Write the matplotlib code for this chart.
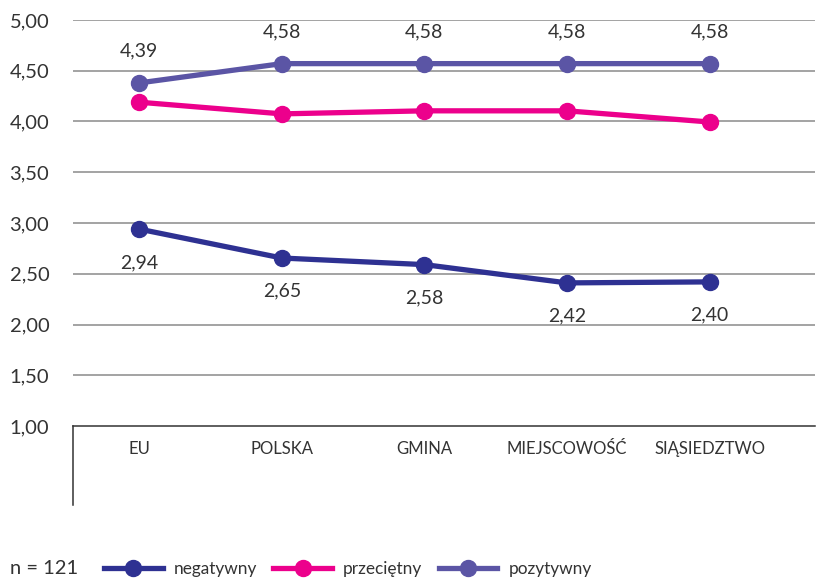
import matplotlib
matplotlib.use('Agg')
import matplotlib.pyplot as plt
from matplotlib.lines import Line2D

categories = ['EU', 'POLSKA', 'GMINA', 'MIEJSCOWOŚĆ', 'SIĄSIEDZTWO']
negatywny = [2.94, 2.655, 2.59, 2.41, 2.42]
przecietny = [4.19, 4.075, 4.105, 4.105, 3.995]
pozytywny = [4.38, 4.57, 4.57, 4.57, 4.57]
neg_labels = ['2,94', '2,65', '2,58', '2,42', '2,40']
poz_labels = ['4,39', '4,58', '4,58', '4,58', '4,58']
y_ticks = [1.0, 1.5, 2.0, 2.5, 3.0, 3.5, 4.0, 4.5, 5.0]

plt.rcParams['font.family'] = ['Lato', 'DejaVu Sans']
text_color = '#333333'

fig = plt.figure(figsize=(8.2, 5.79), dpi=100)
ax = fig.add_axes([0.089, 0.2642, 0.905, 0.7013])

x = list(range(len(categories)))
series = [
    (negatywny, '#2e3192', 'negatywny'),
    (przecietny, '#ec008c', 'przeciętny'),
    (pozytywny, '#5b55a5', 'pozytywny'),
]
for vals, color, name in series:
    ax.plot(x, vals, color=color, lw=3.8, marker='o', ms=11.5, label=name,
            solid_capstyle='butt', zorder=3)

for xi, v, lab in zip(x, negatywny, neg_labels):
    ax.annotate(lab, (xi, v), xytext=(0, -24), textcoords='offset points',
                ha='center', va='center', fontsize=14, color=text_color)
for xi, v, lab in zip(x, pozytywny, poz_labels):
    ax.annotate(lab, (xi, v), xytext=(0, 23), textcoords='offset points',
                ha='center', va='center', fontsize=14, color=text_color)

ax.set_ylim(1.0, 5.0)
ax.set_xlim(-0.465, 4.74)
ax.set_yticks(y_ticks)
ax.set_yticklabels([f'{t:.2f}'.replace('.', ',') for t in y_ticks])
ax.set_xticks(x)
ax.set_xticklabels(categories)
ax.tick_params(axis='y', length=0, pad=17, labelsize=14.5, labelcolor=text_color)
ax.tick_params(axis='x', length=0, pad=11, labelsize=12, labelcolor=text_color)

for t in y_ticks[1:]:
    ax.axhline(t, color='#8a8a8a', lw=1.1, zorder=1)
for s in ['top', 'right', 'left']:
    ax.spines[s].set_visible(False)
ax.spines['bottom'].set_color('#333333')
ax.spines['bottom'].set_linewidth(1.1)
ax.plot([0, 0], [0, -0.195], transform=ax.transAxes, color='#333333',
        lw=1.1, clip_on=False)

fig.text(10 / 820, 1 - 568 / 579, 'n = 121', fontsize=14.5, color=text_color,
         va='center', ha='left')
handles = [Line2D([], [], color=c, lw=3.8, marker='o', ms=11.5) for _, c, _ in series]
fig.legend(handles, [n for _, _, n in series], loc='center left',
           bbox_to_anchor=(104 / 820, 1 - 569 / 579), ncol=3, frameon=False,
           handlelength=3.4, handletextpad=0.65, columnspacing=0.95,
           fontsize=12.4, labelcolor=text_color, borderaxespad=0, borderpad=0)

fig.savefig('out.png', dpi=100)
